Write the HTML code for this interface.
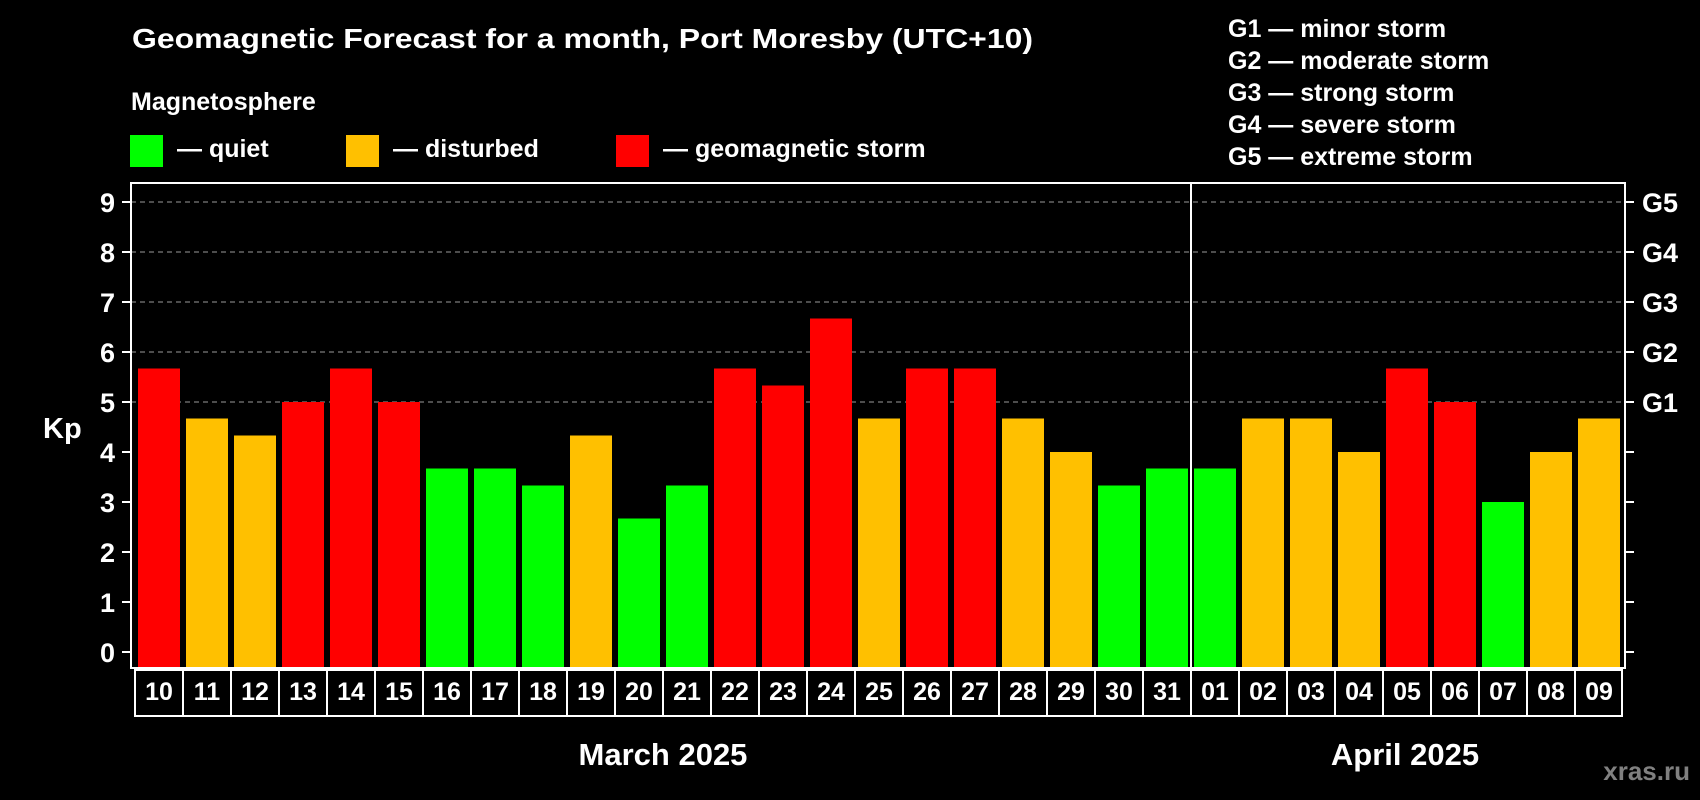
<!DOCTYPE html>
<html><head><meta charset="utf-8"><style>
html,body{margin:0;padding:0;background:#000;}
svg{display:block;font-family:"Liberation Sans",Arial,sans-serif;font-weight:bold;}
</style></head><body>
<svg id="chart" width="1700" height="800" viewBox="0 0 1700 800" xmlns="http://www.w3.org/2000/svg">
<rect x="0" y="0" width="1700" height="800" fill="#000"/>
<text x="132" y="48" font-size="28" fill="#fff" textLength="901" lengthAdjust="spacingAndGlyphs">Geomagnetic Forecast for a month, Port Moresby (UTC+10)</text>
<text x="131" y="110" font-size="25" fill="#fff">Magnetosphere</text>
<g><rect x="130" y="135" width="33" height="32" fill="#00ff00"/><text x="177" y="157" font-size="25" fill="#fff">— quiet</text></g>
<g><rect x="346" y="135" width="33" height="32" fill="#ffc000"/><text x="393" y="157" font-size="25" fill="#fff">— disturbed</text></g>
<g><rect x="616" y="135" width="33" height="32" fill="#ff0000"/><text x="663" y="157" font-size="25" fill="#fff">— geomagnetic storm</text></g>
<g font-size="25" fill="#fff">
<text x="1228" y="37">G1 — minor storm</text>
<text x="1228" y="69">G2 — moderate storm</text>
<text x="1228" y="101">G3 — strong storm</text>
<text x="1228" y="133">G4 — severe storm</text>
<text x="1228" y="165">G5 — extreme storm</text>
</g>
<g id="grid"></g>
<g id="bars"></g>
<g id="axes"></g>
<text x="43" y="438" font-size="29" fill="#fff">Kp</text>
<text x="663" y="765" font-size="31" fill="#fff" text-anchor="middle">March 2025</text>
<text x="1405" y="765" font-size="31" fill="#fff" text-anchor="middle">April 2025</text>
<text x="1690" y="780" font-size="26" fill="#808080" text-anchor="end">xras.ru</text>
</svg>
<script>
const days = ["10","11","12","13","14","15","16","17","18","19","20","21","22","23","24","25","26","27","28","29","30","31","01","02","03","04","05","06","07","08","09"];
const kpValues = [5.67,4.67,4.33,5,5.67,5,3.67,3.67,3.33,4.33,2.67,3.33,5.67,5.33,6.67,4.67,5.67,5.67,4.67,4,3.33,3.67,3.67,4.67,4.67,4,5.67,5,3,4,4.67];
const yTicks = [0,1,2,3,4,5,6,7,8,9];
const gLabels = ["G1","G2","G3","G4","G5"];
const gLevels = [5,6,7,8,9];
const monthBreakIndex = 22;

const NS = "http://www.w3.org/2000/svg";
const X0 = 131, X1 = 1625, Y0 = 652, UNIT = 50, TOP = 183, BOT = 668, STEP = 48, BARW = 42;
function yScale(v){ return Y0 - v*UNIT; }
function xScale(i){ return 138 + i*STEP; }
function mk(tag, attrs, parent){ const e=document.createElementNS(NS,tag); for(const k in attrs) e.setAttribute(k,attrs[k]); parent.appendChild(e); return e; }
function color(v){ return v>=5 ? "#ff0000" : (v>=4 ? "#ffc000" : "#00ff00"); }

const grid = document.getElementById("grid");
const bars = document.getElementById("bars");
const axes = document.getElementById("axes");

gLevels.forEach(v=>{
  const l = mk("line",{x1:X0,x2:X1,y1:yScale(v),y2:yScale(v),stroke:"#9a9a9a","stroke-width":1,"stroke-dasharray":"5,4"},grid);
  
  
});

kpValues.forEach((v,i)=>{
  const r = mk("rect",{x:xScale(i),y:yScale(v),width:BARW,height:BOT-yScale(v)-1,fill:color(v)},bars);
  
  
});

// frame
const fr = mk("rect",{x:X0,y:TOP,width:X1-X0,height:BOT-TOP,fill:"none",stroke:"#fff","stroke-width":2},axes);


const sepX = xScale(monthBreakIndex)-3;
const sep = mk("line",{x1:sepX,x2:sepX,y1:TOP,y2:BOT,stroke:"#fff","stroke-width":2},axes);



yTicks.forEach(v=>{
  const y = yScale(v);
  const t = mk("line",{x1:X0-9,x2:X0,y1:y,y2:y,stroke:"#fff","stroke-width":2},axes);
  
  
  const t2 = mk("line",{x1:X1,x2:X1+9,y1:y,y2:y,stroke:"#fff","stroke-width":2},axes);
  
  
  const lb = mk("text",{x:115,y:y+10,"font-size":27,fill:"#fff","text-anchor":"end"},axes);
  lb.textContent = String(v);
  
  
});
gLevels.forEach((v,i)=>{
  const lb = mk("text",{x:1642,y:yScale(v)+10,"font-size":27,fill:"#fff"},axes);
  lb.textContent = gLabels[i];
  
  
});

// date boxes
const BY0 = 670, BY1 = 716;
const bx = mk("rect",{x:135,y:BY0,width:1487,height:BY1-BY0,fill:"none",stroke:"#fff","stroke-width":2},axes);


days.forEach((d,i)=>{
  if(i>0){
    const dv = mk("line",{x1:xScale(i)-3,x2:xScale(i)-3,y1:BY0,y2:BY1,stroke:"#fff","stroke-width":2},axes);
    
    
  }
  const t = mk("text",{x:xScale(i)+BARW/2,y:700,"font-size":25,fill:"#fff","text-anchor":"middle"},axes);
  t.textContent = d;
  
  
});
</script>
</body></html>
